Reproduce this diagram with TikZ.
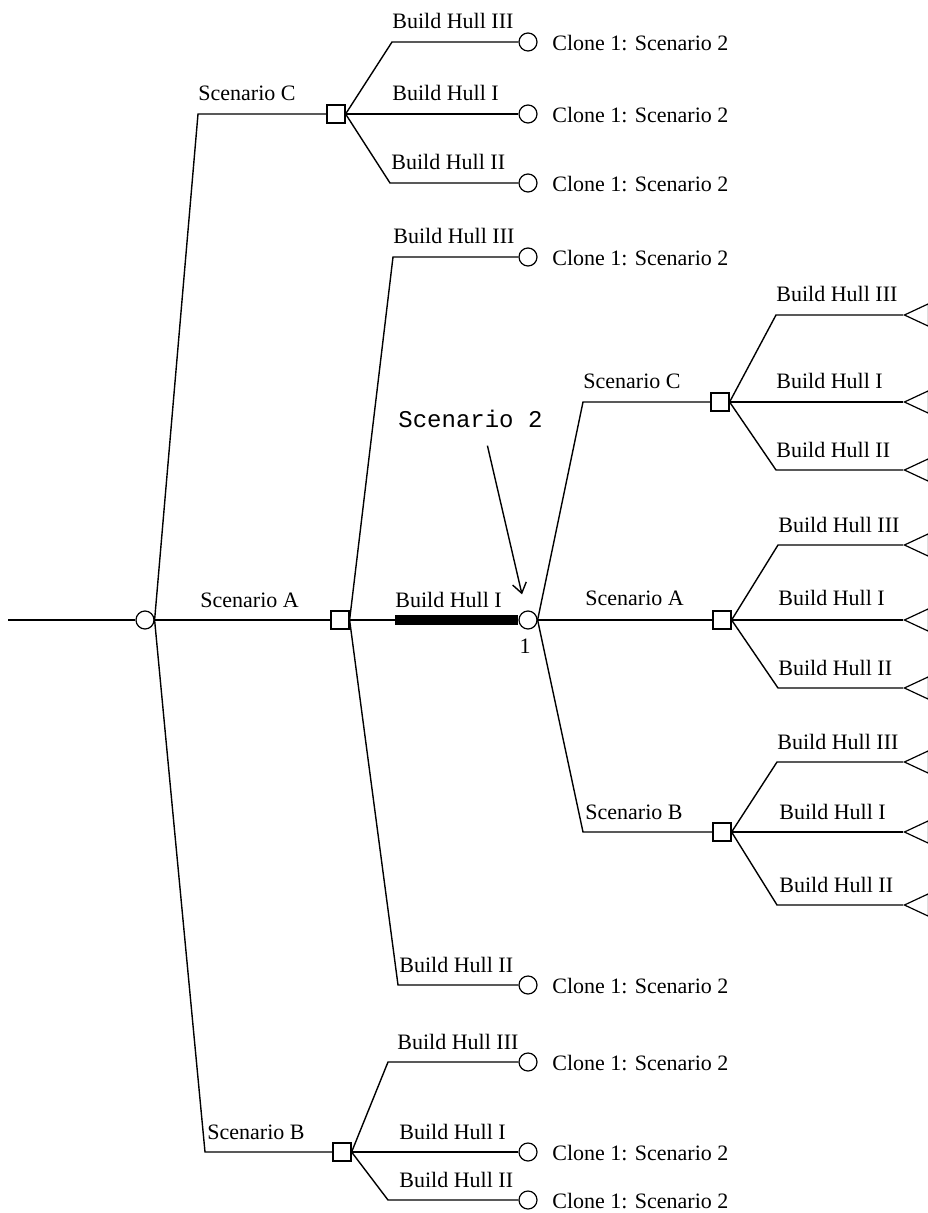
\documentclass[tikz,border=0pt]{standalone}
\usepackage{fontspec}
\setmainfont{Liberation Serif}
\newfontfamily\monofont{Liberation Mono}
\usetikzlibrary{shapes.geometric,arrows.meta}

\begin{document}
\begin{tikzpicture}[x=0.5pt,y=-0.5pt,
chancenode/.style={circle, draw, line width=0.6pt, minimum size=9pt, inner sep=0pt},
decisionnode/.style={rectangle, draw, line width=0.6pt, minimum size=9pt, inner sep=0pt},
endnode/.style={isosceles triangle, shape border rotate=180, isosceles triangle apex angle=50, draw, line width=0.6pt, minimum height=12pt, inner sep=0pt, anchor=apex},
branchlabel/.style={anchor=base west, inner sep=0pt, font=\fontsize{11}{13}\selectfont},
clonelabel/.style={anchor=west, inner sep=0pt, font=\fontsize{11}{13}\selectfont},
branch/.style={line width=0.7pt},
]
\useasboundingbox (0,0) rectangle (927,1213);
%Nodes
\coordinate (start) at (8,620);
\node[chancenode] at (145,620) (r0) {};
\node[decisionnode] at (336,114) (sC) {};
\node[decisionnode] at (340,620) (sA) {};
\node[decisionnode] at (342,1152) (sB) {};
\coordinate (cC) at (198,114);
\coordinate (cB) at (205,1152);
%Scenario C leaves
\coordinate (ccC3) at (392,42);
\coordinate (ccC2) at (390,183);
\node[chancenode] at (528,42) (oC3) {};
\node[chancenode] at (528,114) (oC1) {};
\node[chancenode] at (528,183) (oC2) {};
%Scenario A leaves
\coordinate (ccA3) at (393,257);
\coordinate (ccA1) at (395,620);
\coordinate (ccA2) at (398,985);
\node[chancenode] at (528,257) (oA3) {};
\node[chancenode] at (528,620) (n1) {};
\node[chancenode] at (528,985) (oA2) {};
%Scenario B leaves
\coordinate (ccB3) at (388,1062);
\coordinate (ccB2) at (388,1200);
\node[chancenode] at (528,1062) (oB3) {};
\node[chancenode] at (528,1152) (oB1) {};
\node[chancenode] at (528,1200) (oB2) {};
%Clone 1 subtree
\coordinate (dC) at (583,402);
\coordinate (dB) at (583,832);
\node[decisionnode] at (720,402) (rC) {};
\node[decisionnode] at (722,620) (rA) {};
\node[decisionnode] at (722,832) (rB) {};
\coordinate (eC3) at (776,315);
\coordinate (eC2) at (776,470);
\coordinate (eA3) at (778,545);
\coordinate (eA2) at (778,688);
\coordinate (eB3) at (777,762);
\coordinate (eB2) at (777,905);
\node[endnode] at (903,315) (tC3) {};
\node[endnode] at (903,402) (tC1) {};
\node[endnode] at (903,470) (tC2) {};
\node[endnode] at (903,545) (tA3) {};
\node[endnode] at (903,620) (tA1) {};
\node[endnode] at (903,688) (tA2) {};
\node[endnode] at (903,762) (tB3) {};
\node[endnode] at (903,832) (tB1) {};
\node[endnode] at (903,905) (tB2) {};
%Labels
\node[branchlabel] at (198,101) (lC) {Scenario C};
\node[branchlabel] at (200,607) (lA) {Scenario A};
\node[branchlabel] at (207,1139) (lB) {Scenario B};
\node[branchlabel] at (392,29) (lC3) {Build Hull III};
\node[branchlabel] at (392,101) (lC1) {Build Hull I};
\node[branchlabel] at (391,170) (lC2) {Build Hull II};
\node[branchlabel] at (393,244) (lA3) {Build Hull III};
\node[branchlabel] at (395,607) (lA1) {Build Hull I};
\node[branchlabel] at (399,972) (lA2) {Build Hull II};
\node[branchlabel] at (397,1049) (lB3) {Build Hull III};
\node[branchlabel] at (399,1139) (lB1) {Build Hull I};
\node[branchlabel] at (399,1187) (lB2) {Build Hull II};
\node[clonelabel] at (552,43) (kC3) {Clone 1: Scenario 2};
\node[clonelabel] at (552,115) (kC1) {Clone 1: Scenario 2};
\node[clonelabel] at (552,184) (kC2) {Clone 1: Scenario 2};
\node[clonelabel] at (552,258) (kA3) {Clone 1: Scenario 2};
\node[clonelabel] at (552,986) (kA2) {Clone 1: Scenario 2};
\node[clonelabel] at (552,1063) (kB3) {Clone 1: Scenario 2};
\node[clonelabel] at (552,1153) (kB1) {Clone 1: Scenario 2};
\node[clonelabel] at (552,1201) (kB2) {Clone 1: Scenario 2};
\node[branchlabel, anchor=center] at (525,646) (n1lbl) {1};
\node[branchlabel] at (583,389) (mC) {Scenario C};
\node[branchlabel] at (585,605) (mA) {Scenario A};
\node[branchlabel] at (585,819) (mB) {Scenario B};
\node[branchlabel] at (776,302) (mC3) {Build Hull III};
\node[branchlabel] at (776,389) (mC1) {Build Hull I};
\node[branchlabel] at (776,457) (mC2) {Build Hull II};
\node[branchlabel] at (778,532) (mA3) {Build Hull III};
\node[branchlabel] at (778,605) (mA1) {Build Hull I};
\node[branchlabel] at (778,675) (mA2) {Build Hull II};
\node[branchlabel] at (777,749) (mB3) {Build Hull III};
\node[branchlabel] at (779,819) (mB1) {Build Hull I};
\node[branchlabel] at (779,892) (mB2) {Build Hull II};
\node[anchor=base west, inner sep=0pt, font=\monofont\fontsize{12}{14}\selectfont] at (398,427) (sc2) {Scenario 2};
%Lines
\draw[branch] (start) -- (r0.west);
\draw[branch] (r0.east) -- (cC) -- (sC.west);
\draw[branch] (r0.east) -- (sA.west);
\draw[branch] (r0.east) -- (cB) -- (sB.west);
\draw[branch] (sC.east) -- (ccC3) -- (oC3.west);
\draw[branch] (sC.east) -- (oC1.west);
\draw[branch] (sC.east) -- (ccC2) -- (oC2.west);
\draw[branch] (sA.east) -- (ccA3) -- (oA3.west);
\draw[branch] (sA.east) -- (ccA1);
\draw[line width=5pt] (ccA1) -- (n1.west);
\draw[branch] (sA.east) -- (ccA2) -- (oA2.west);
\draw[branch] (sB.east) -- (ccB3) -- (oB3.west);
\draw[branch] (sB.east) -- (oB1.west);
\draw[branch] (sB.east) -- (ccB2) -- (oB2.west);
\draw[branch] (n1.east) -- (dC) -- (rC.west);
\draw[branch] (n1.east) -- (rA.west);
\draw[branch] (n1.east) -- (dB) -- (rB.west);
\draw[branch] (rC.east) -- (eC3) -- (tC3.apex);
\draw[branch] (rC.east) -- (tC1.apex);
\draw[branch] (rC.east) -- (eC2) -- (tC2.apex);
\draw[branch] (rA.east) -- (eA3) -- (tA3.apex);
\draw[branch] (rA.east) -- (tA1.apex);
\draw[branch] (rA.east) -- (eA2) -- (tA2.apex);
\draw[branch] (rB.east) -- (eB3) -- (tB3.apex);
\draw[branch] (rB.east) -- (tB1.apex);
\draw[branch] (rB.east) -- (eB2) -- (tB2.apex);
%Pointer
\draw[branch, -{Straight Barb[length=5pt,width=7pt]}] ([shift={(17,18)}]sc2.south) -- ([shift={(-6,-16)}]n1.north);
\end{tikzpicture}
\end{document}
